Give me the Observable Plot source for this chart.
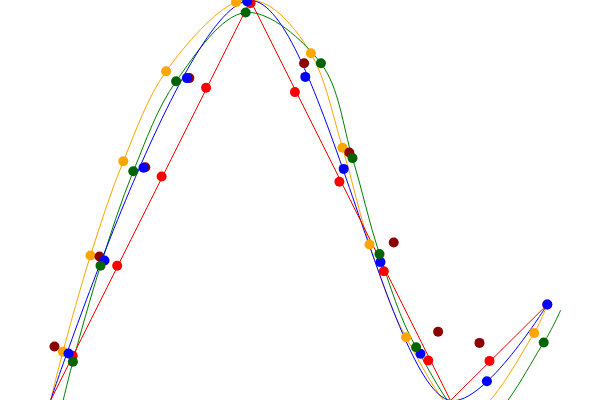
<!DOCTYPE html>
<html>
<head>
<meta charset="utf-8">
<script src="https://cdn.jsdelivr.net/npm/d3@7"></script>
<script src="https://cdn.jsdelivr.net/npm/@observablehq/plot@0.6"></script>
<style>
  html, body { margin: 0; padding: 0; background: white; }
</style>
</head>
<body>
<div id="chart"></div>
<script>
// Line vertices (shared by red / blue curves)
const vertexX = [0, 0.5, 1, 1.242];
const vertexY = [0, 1, 0, 0.24];

// Orange curve nodes
const orangeLineX = [0, 0.031, 0.1, 0.182, 0.289, 0.464, 0.54, 0.651, 0.73, 0.7975, 0.889, 1.04, 1.209, 1.242];
const orangeLineY = [0, 0.122, 0.3625, 0.598, 0.823, 0.996, 0.99, 0.868, 0.632, 0.39, 0.158, -0.04, 0.169, 0.24];

// Green curve nodes
const greenLineX = [0.02, 0.056, 0.125, 0.207, 0.314, 0.488, 0.676, 0.755, 0.8225, 0.914, 1.068, 1.233, 1.275];
const greenLineY = [-0.048, 0.097, 0.337, 0.573, 0.798, 0.97, 0.843, 0.606, 0.366, 0.133, -0.063, 0.145, 0.225];

// Dots
const redX = [0.0556, 0.1667, 0.2778, 0.3889, 0.5, 0.6111, 0.7222, 0.8333, 0.9444, 1.0975, 1.242];
const redY = [0.112, 0.337, 0.56, 0.782, 0.993, 0.771, 0.547, 0.323, 0.1, 0.099, 0.24];

const orangeX = [0.031, 0.1, 0.182, 0.289, 0.464, 0.651, 0.73, 0.7975, 0.889, 1.209];
const orangeY = [0.122, 0.3625, 0.598, 0.823, 0.996, 0.868, 0.632, 0.39, 0.158, 0.169];

const darkredX = [0.01, 0.1225, 0.237, 0.347, 0.634, 0.747, 0.858, 0.969, 1.0725];
const darkredY = [0.135, 0.36, 0.583, 0.806, 0.843, 0.62, 0.395, 0.172, 0.144];

const blueX = [0.045, 0.135, 0.2325, 0.341, 0.492, 0.637, 0.733, 0.825, 0.925, 1.091, 1.242];
const blueY = [0.1175, 0.35, 0.582, 0.806, 0.9975, 0.809, 0.579, 0.346, 0.117, 0.048, 0.24];

const greenX = [0.056, 0.125, 0.207, 0.314, 0.488, 0.676, 0.755, 0.8225, 0.914, 1.233];
const greenY = [0.097, 0.337, 0.573, 0.798, 0.97, 0.843, 0.606, 0.366, 0.133, 0.145];

const pts = (xs, ys) => xs.map((x, i) => ({x, y: ys[i]}));
const vertices = pts(vertexX, vertexY);

const chart = Plot.plot({
  width: 600,
  height: 400,
  margin: 0,
  style: {overflow: "hidden", background: "white"},
  x: {domain: [-0.125, 1.375], axis: null},
  y: {domain: [0, 1], axis: null},
  marks: [
    Plot.line(pts(orangeLineX, orangeLineY), {x: "x", y: "y", stroke: "orange", strokeWidth: 1, curve: "catmull-rom"}),
    Plot.line(pts(greenLineX, greenLineY), {x: "x", y: "y", stroke: "green", strokeWidth: 1, curve: "catmull-rom"}),
    Plot.line(vertices, {x: "x", y: "y", stroke: "blue", strokeWidth: 1, curve: "catmull-rom"}),
    Plot.line(vertices, {x: "x", y: "y", stroke: "red", strokeWidth: 1, curve: "linear"}),
    Plot.dot(pts(redX, redY), {x: "x", y: "y", r: 5, fill: "red"}),
    Plot.dot(pts(orangeX, orangeY), {x: "x", y: "y", r: 5, fill: "orange"}),
    Plot.dot(pts(darkredX, darkredY), {x: "x", y: "y", r: 5, fill: "darkred"}),
    Plot.dot(pts(blueX, blueY), {x: "x", y: "y", r: 5, fill: "blue"}),
    Plot.dot(pts(greenX, greenY), {x: "x", y: "y", r: 5, fill: "darkgreen"})
  ]
});
document.getElementById("chart").appendChild(chart);
</script>
</body>
</html>
